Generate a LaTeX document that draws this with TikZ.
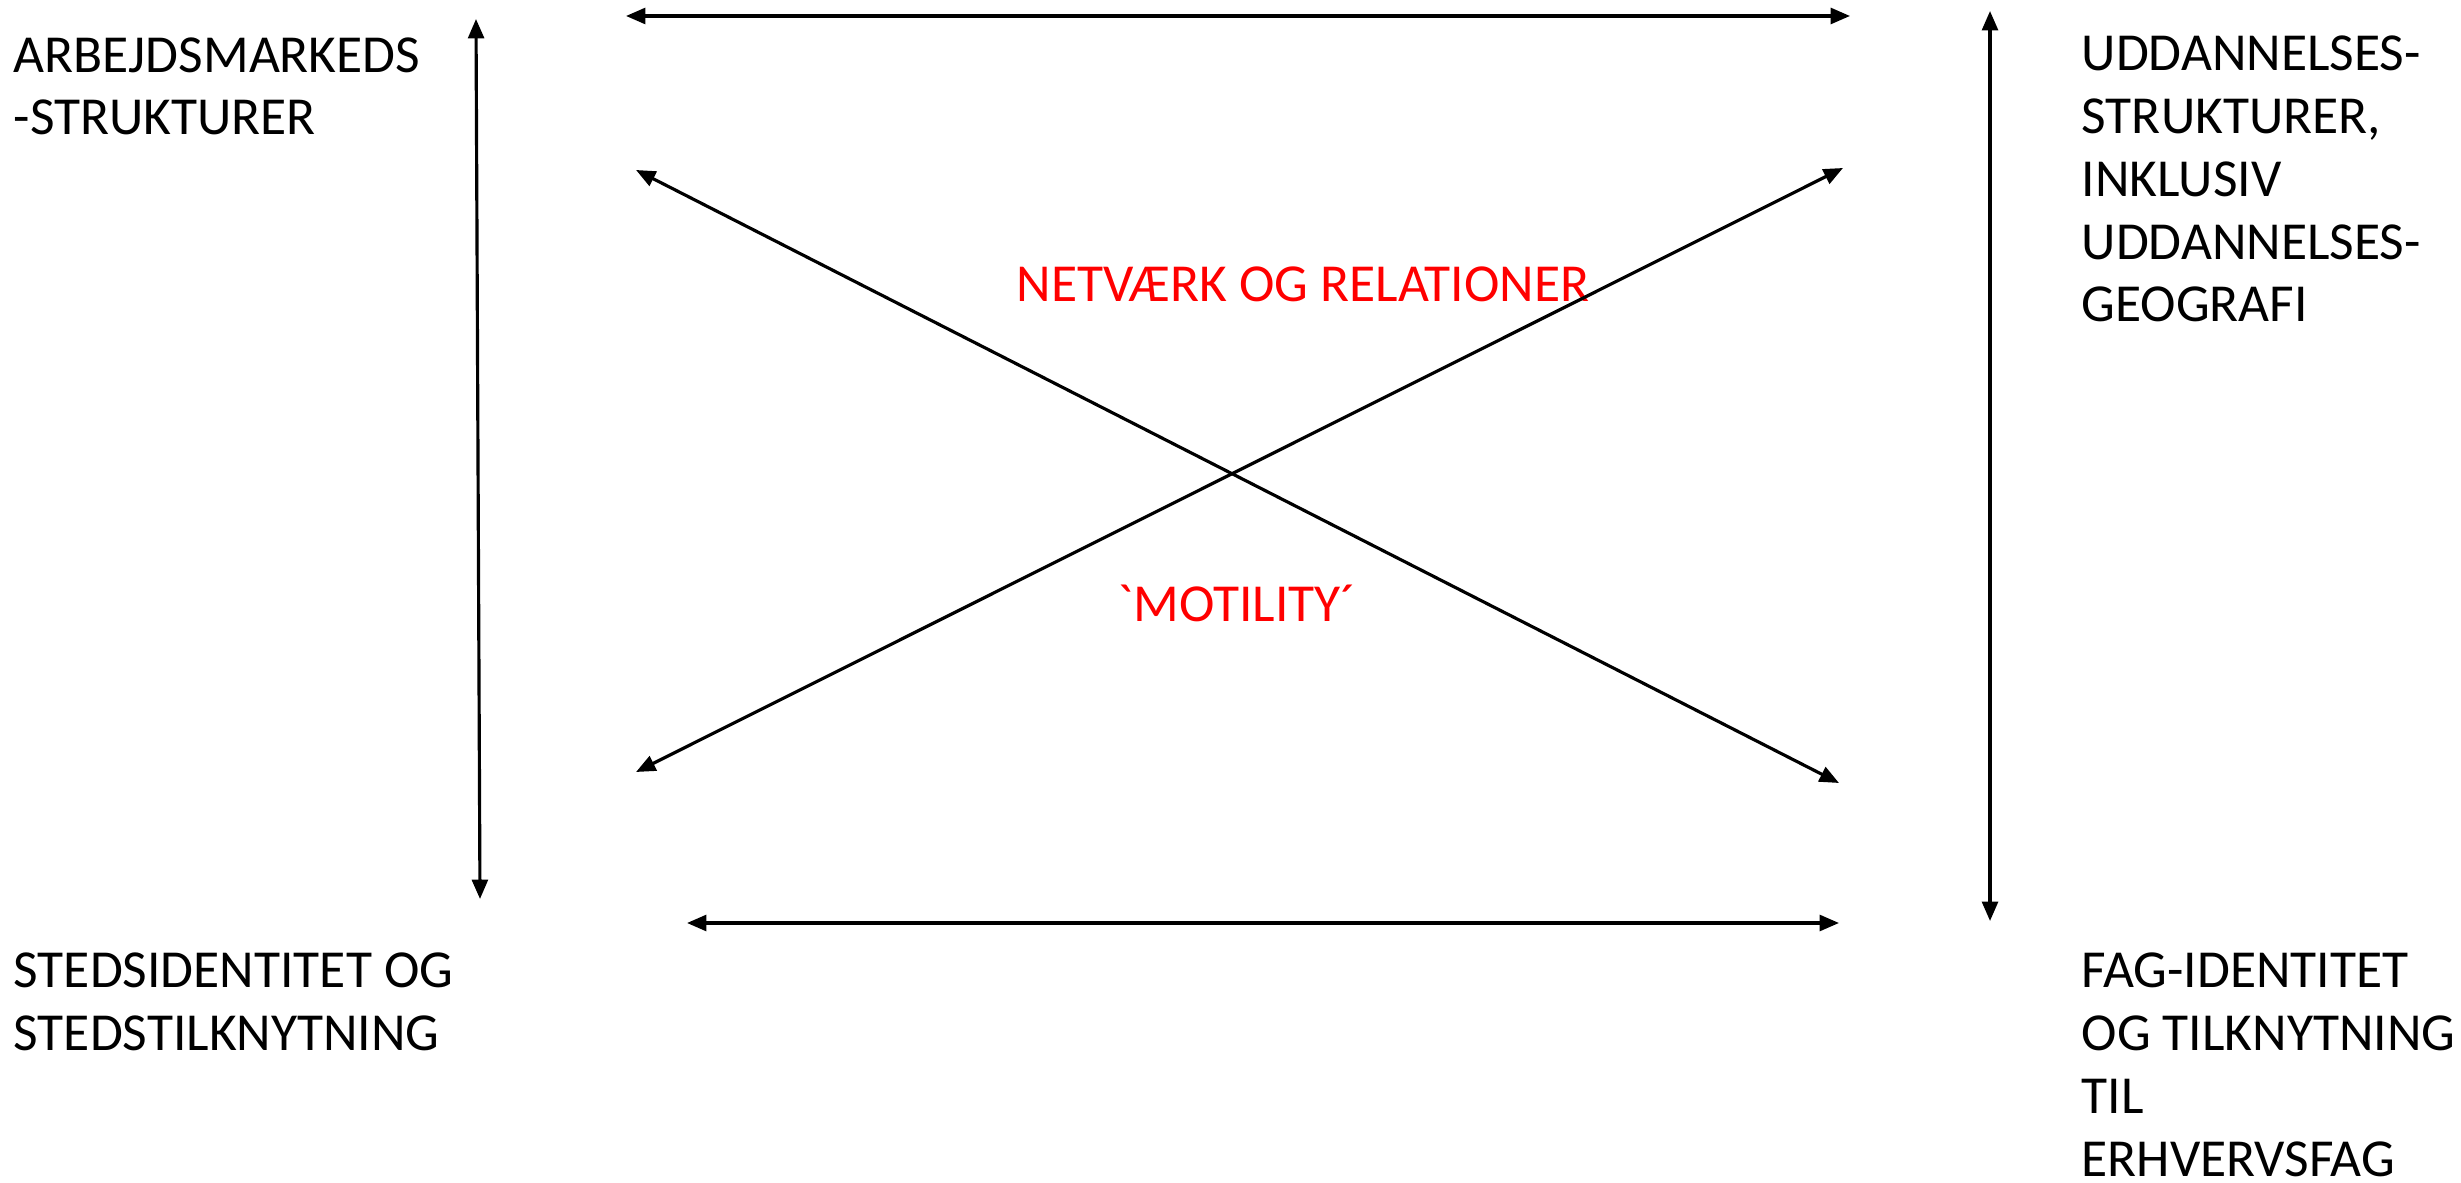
\documentclass[tikz,border=0pt]{standalone}
\usepackage{fontspec}
\setmainfont{Carlito}[Ligatures=TeXOff]
\usetikzlibrary{arrows.meta}
\begin{document}
\begin{tikzpicture}[x=0.01cm,y=-0.01cm,
        dbl/.style={line width=0.9pt,{Triangle[length=5.5pt,width=4.5pt]}-{Triangle[length=5.5pt,width=4.5pt]}},
        lbl/.style={anchor=base west,align=left,inner sep=0pt,font=\fontsize{15.2}{17.9}\selectfont},
        redlbl/.style={inner sep=0pt,text=red,font=\fontsize{15.2}{17.9}\selectfont}]
        \useasboundingbox (0,0) rectangle (2461,1183);

        % corner texts (placed at the baseline of their last line)
        \node[lbl] (arbejd) at (13,135) {ARBEJDSMARKEDS\\-STRUKTURER};
        \node[lbl] (udd) at (2081,322) {UDDANNELSES-\\STRUKTURER,\\INKLUSIV\\UDDANNELSES-\\GEOGRAFI};
        \node[lbl] (sted) at (13,1050) {STEDSIDENTITET OG\\STEDSTILKNYTNING};
        \node[lbl] (fag) at (2081,1176) {FAG-IDENTITET\\OG TILKNYTNING\\TIL\\ERHVERVSFAG};

        % middle texts
        \node[redlbl] (netv) at (1303,284) {NETVÆRK OG RELATIONER};
        \node[redlbl] (motil) at (1237,603) {`MOTILITY´};

        % arrow ends
        \coordinate (lvT) at (476,19);
        \coordinate (lvB) at (480,899);
        \coordinate (thL) at (626,16);
        \coordinate (thR) at (1850,16);
        \coordinate (d1a) at (636,170);
        \coordinate (d1b) at (1839,783);
        \coordinate (d2a) at (636,772);
        \coordinate (d2b) at (1843,168);
        \coordinate (bhL) at (687,923);
        \coordinate (bhR) at (1839,923);
        \coordinate (rvT) at (1990,11);
        \coordinate (rvB) at (1990,921);

        \draw[dbl] (lvT)--(lvB);
        \draw[dbl] (thL)--(thR);
        \draw[dbl] (d1a)--(d1b);
        \draw[dbl] (d2a)--(d2b);
        \draw[dbl] (bhL)--(bhR);
        \draw[dbl] (rvT)--(rvB);
\end{tikzpicture}
\end{document}
